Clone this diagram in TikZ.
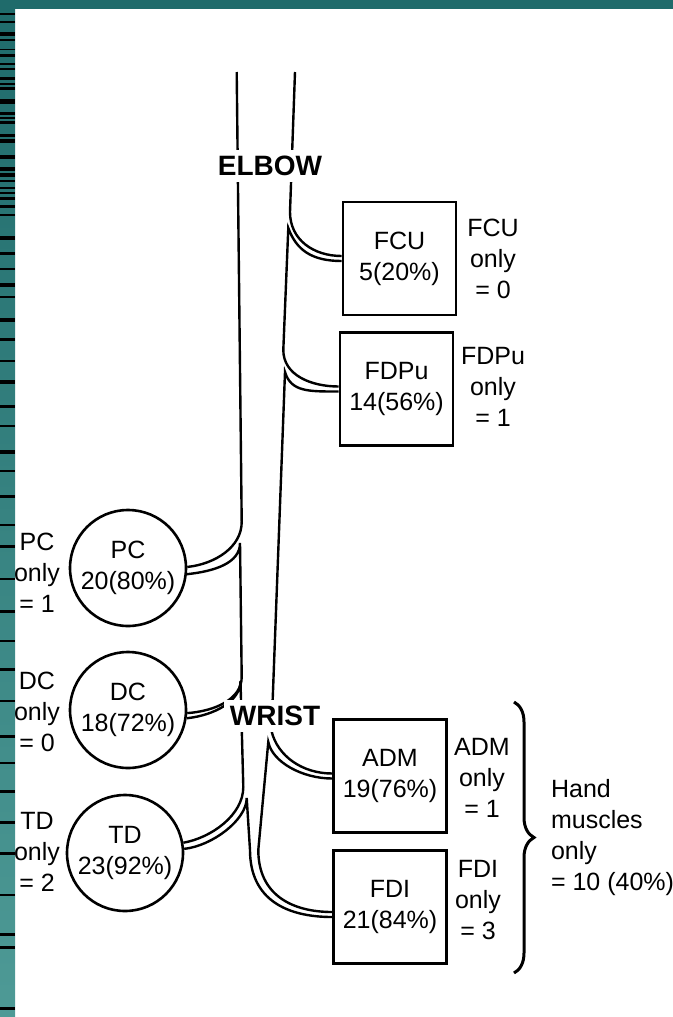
\documentclass[tikz,border=0pt]{standalone}
\usepackage{fontspec}
\setmainfont{Liberation Sans}
\usetikzlibrary{decorations.pathreplacing}
\definecolor{frameteal}{HTML}{1F6B6B}
\definecolor{stripteal}{HTML}{4E9A96}
\begin{document}
\begin{tikzpicture}[x=0.5pt, y=-0.5pt,
        txt/.style={font=\fontsize{12.5}{15.5}\selectfont, align=center},
        muscle/.style={draw, line width=1.3pt, rectangle, minimum width=56.5pt, minimum height=56.5pt, inner sep=0pt, txt},
        muscledisc/.style={draw, line width=1.3pt, circle, minimum size=58pt, inner sep=0pt, txt},
        joint/.style={font=\fontsize{14}{16}\selectfont\bfseries, fill=white, inner sep=3pt},
        nerve/.style={line width=1.2pt}]
        \useasboundingbox (0,0) rectangle (673,1017);

        % frame of the screenshot
        \fill[frameteal] (0,0) rectangle (673,9);
        \shade[top color=frameteal, bottom color=stripteal] (0,0) rectangle (15,1017);
        \foreach \s/\h in {13/2,21/2,32/4,39/2,49/1,54/3,63/2,68/2,77/3,83/2,87/3,99/5,112/3,117/2,121/3,134/3,139/4,155/4,167/4,173/4,180/2,187/2,192/2,197/3,
                205/3,214/2,236/4,252/3,268/2,283/4,296/2,318/4,338/3,360/2,380/4,405/3,425/2,450/4,470/2,495/3,
                524/2,545/3,578/2,610/3,640/2,668/3,700/2,735/3,762/2,790/3,821/3,852/3,894/2,933/3,946/3,1007/3}
            \fill[black] (0,\s) rectangle (15,\s+\h);

        % muscles
        \node[muscle] (fcu) at (399.5,258.5) {FCU\\5(20\%)};
        \node[muscle] (fdpu) at (396.5,389) {FDPu\\14(56\%)};
        \node[muscle] (adm) at (390,776) {ADM\\19(76\%)};
        \node[muscle] (fdi) at (390,907) {FDI\\21(84\%)};
        \node[muscledisc] (pc) at (128,568) {PC\\20(80\%)};
        \node[muscledisc] (dc) at (128,710) {DC\\18(72\%)};
        \node[muscledisc] (td) at (125,853) {TD\\23(92\%)};

        % counts of single responses
        \node[txt] (fcuonly) at (493,259) {FCU\\only\\= 0};
        \node[txt] (fdpuonly) at (493,387) {FDPu\\only\\= 1};
        \node[txt] (admonly) at (482,778) {ADM\\only\\= 1};
        \node[txt] (fdionly) at (478,900) {FDI\\only\\= 3};
        \node[txt] (pconly) at (37,573) {PC\\only\\= 1};
        \node[txt] (dconly) at (37,712) {DC\\only\\= 0};
        \node[txt] (tdonly) at (37,852) {TD\\only\\= 2};

        % nerve edges
        \coordinate (u0) at (295,72);
        \coordinate (u1) at (290,212);
        \coordinate (u2) at (288.3,228);
        \coordinate (u3) at (283.3,350);
        \coordinate (u4) at (285,372);
        \coordinate (u5) at (271.5,731);
        \coordinate (u6) at (268.3,742);
        \coordinate (u7) at (258.3,850);
        \coordinate (r0) at (236.7,72);
        \coordinate (r1) at (241.7,522);
        \coordinate (r2) at (240,543);
        \coordinate (r3) at (241.7,677);
        \coordinate (r4) at (240.5,681);
        \coordinate (r5) at (243.3,787);
        \coordinate (r6) at (246.7,798);
        \coordinate (r7) at (250,850);

        \draw[nerve] (u0) -- (u1) .. controls +(0,28) and +(-28,0) .. ([yshift=1.25pt]fcu.west);
        \draw[nerve] ([yshift=-1.25pt]fcu.west) .. controls +(-30,0) and +(8,22) .. (u2) -- (u3)
            .. controls +(0,25) and +(-28,0) .. ([yshift=1.25pt]fdpu.west);
        \draw[nerve] ([yshift=-1.25pt]fdpu.west) .. controls +(-30,0) and +(6,20) .. (u4) -- (u5)
            .. controls +(6,25) and +(-30,0) .. ([yshift=1.25pt]adm.west);
        \draw[nerve] ([yshift=-1.25pt]adm.west) .. controls +(-30,0) and +(4,20) .. (u6) -- (u7)
            .. controls +(0,45) and +(-40,0) .. ([yshift=-2.5pt]fdi.west);

        \draw[nerve] (r0) -- (r1) .. controls +(0,25) and +(28,-3) .. (pc.1);
        \draw[nerve] (pc.-6) .. controls +(28,-3) and +(0,20) .. (r2) -- (r3)
            .. controls +(0,22) and +(28,-2) .. (dc.-3);
        \draw[nerve] (dc.-8) .. controls +(28,-3) and +(0,20) .. (r4) -- (r5)
            .. controls +(0,28) and +(28,-5) .. (td.10);
        \draw[nerve] (td.4) .. controls +(28,-3) and +(0,22) .. (r6) -- (r7)
            .. controls +(0,50) and +(-45,0) .. ([yshift=-5pt]fdi.west);

        \node[joint] (elbow) at (270,166) {ELBOW};
        \node[joint] (wrist) at (275,716) {WRIST};

        % hand muscles group
        \coordinate (bracetop) at (514,702);
        \coordinate (bracebot) at (514,973);
        \draw[decorate, decoration={brace, amplitude=10pt}, line width=1.5pt] (bracetop) -- (bracebot);
        \node[txt, align=left, anchor=west] (hand) at (544,838) {Hand\\muscles\\only\\= 10 (40\%)};
    \end{tikzpicture}
\end{document}
